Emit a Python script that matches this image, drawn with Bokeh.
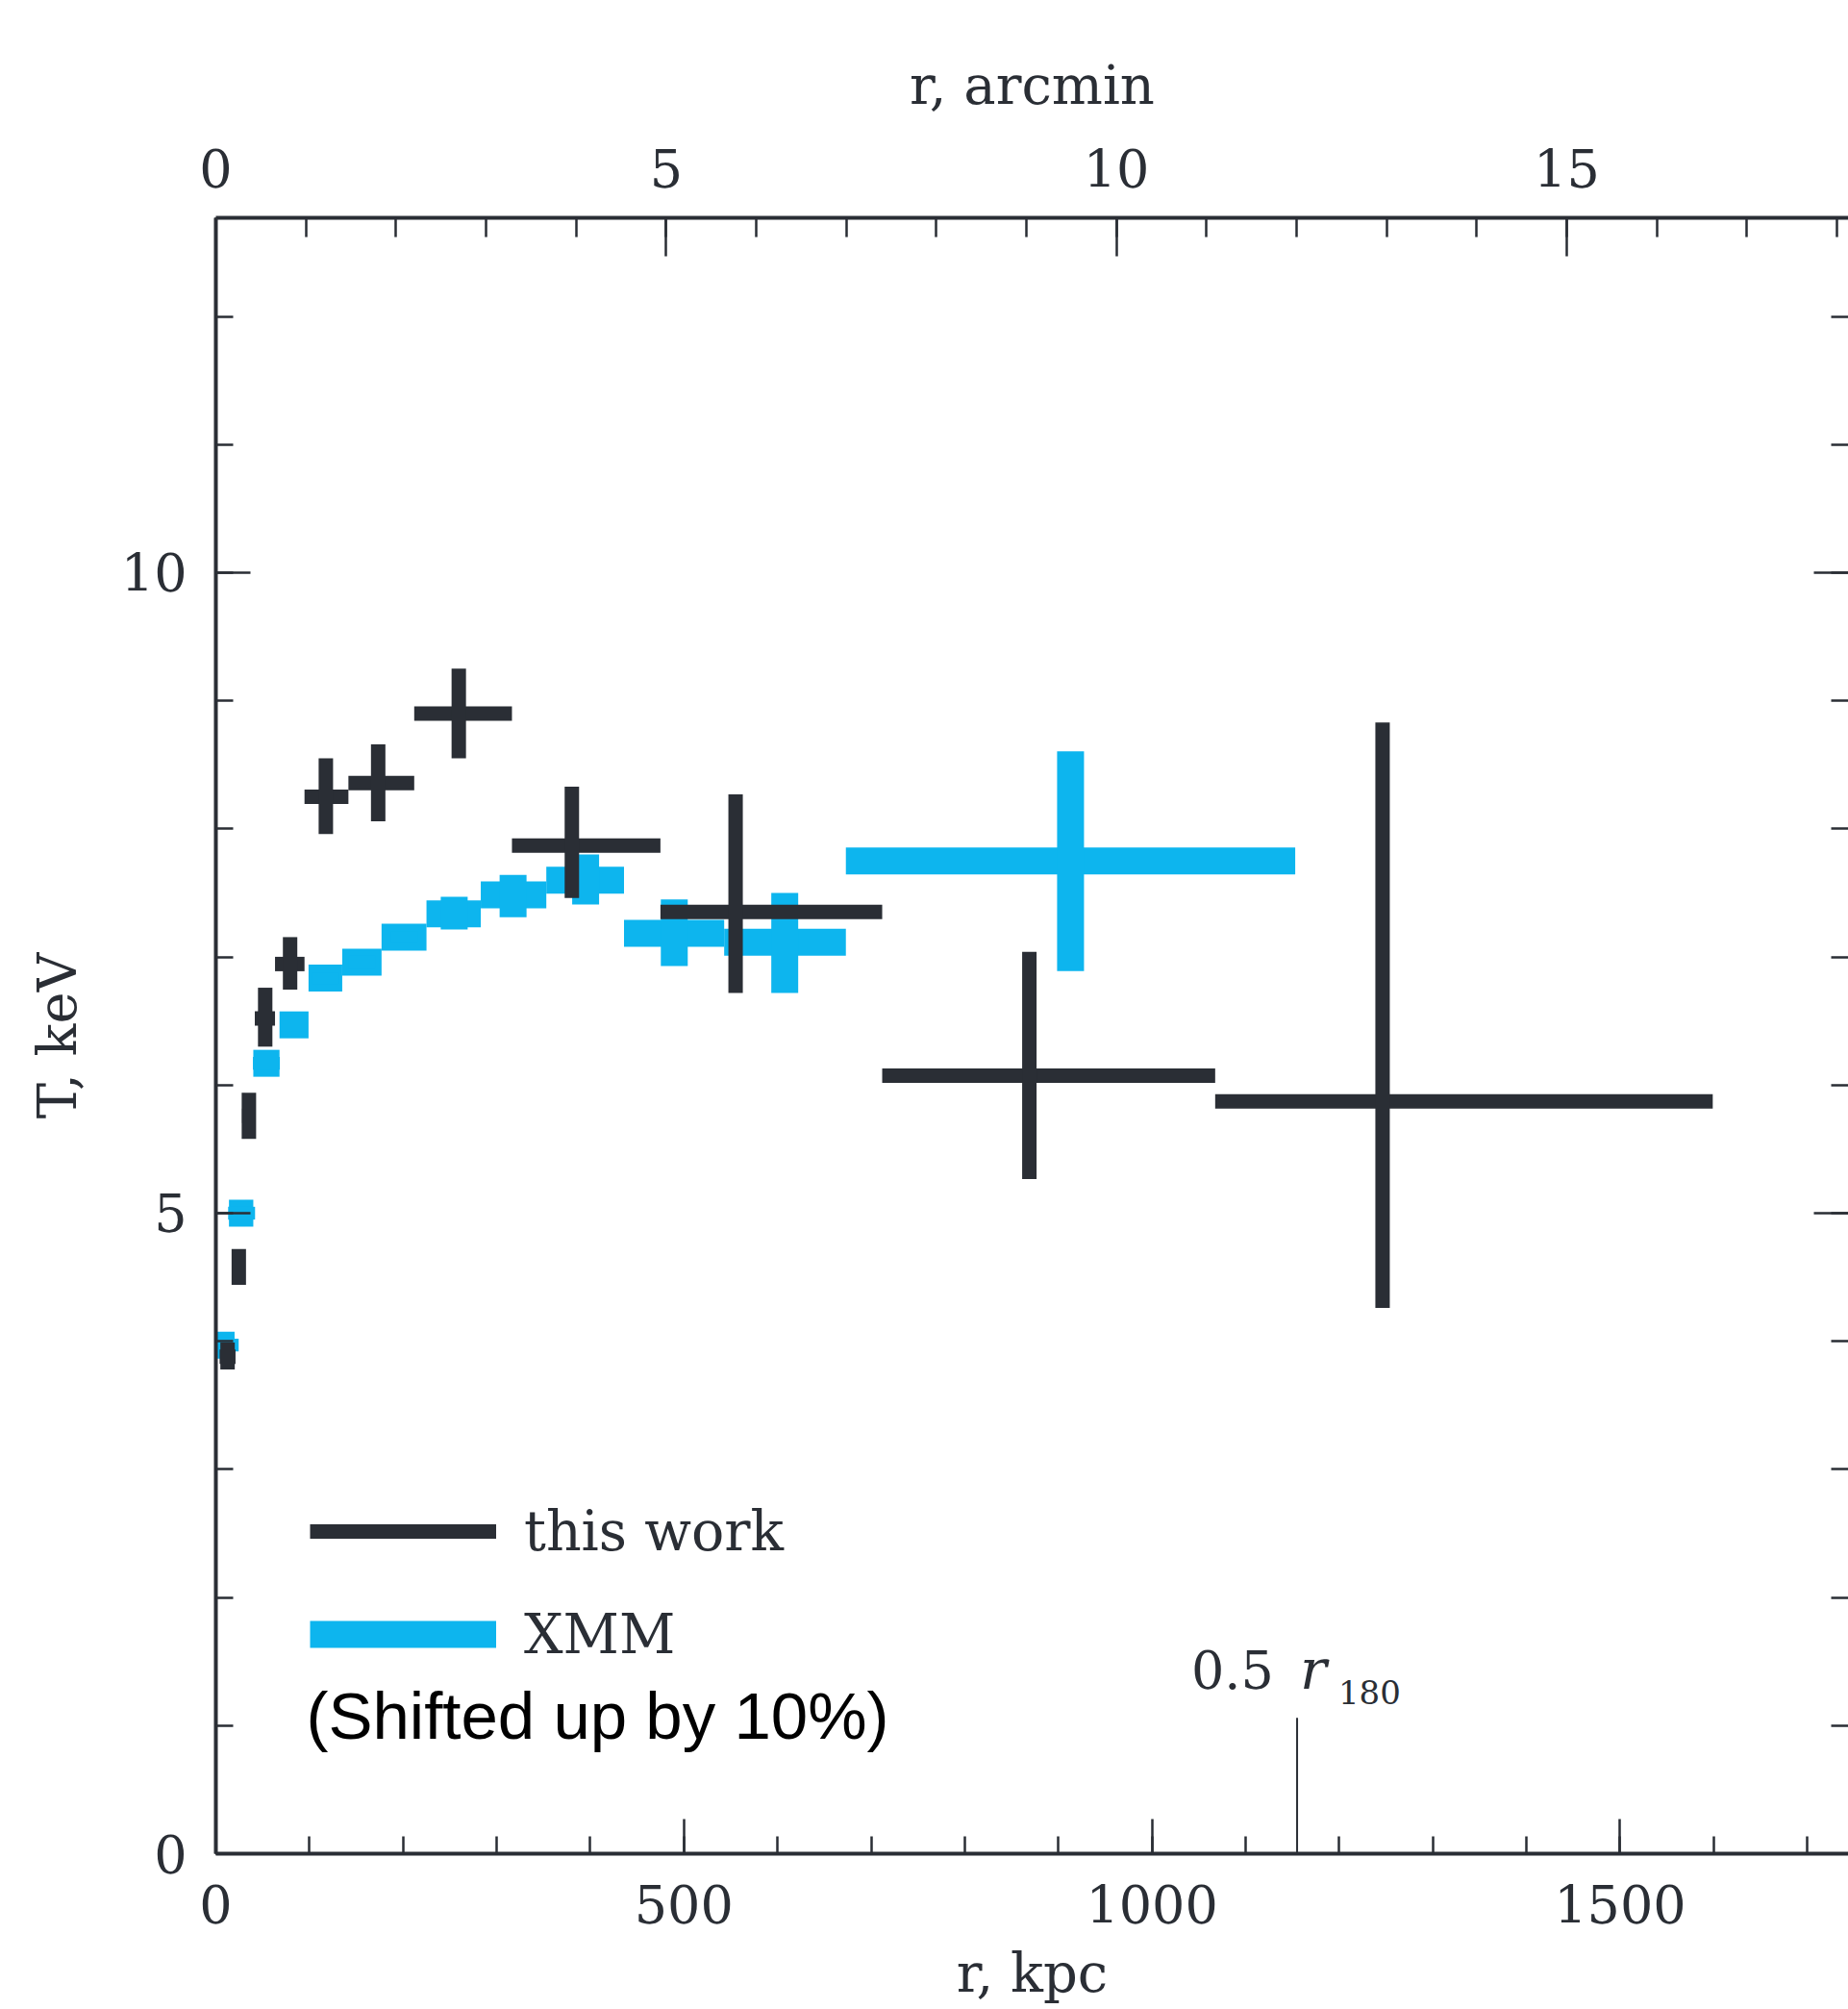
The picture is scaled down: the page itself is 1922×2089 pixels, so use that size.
from bokeh.plotting import figure
from bokeh.models import Range1d, LinearAxis, SingleIntervalTicker, Label
from bokeh.embed import file_html
from bokeh.resources import INLINE

# ---------------- data ----------------
# "this work" temperature profile (kpc, keV)
this_work_r    = [12.5, 24.5, 35.3, 52.7, 79.3, 117.5, 173.4, 259.5, 380.3, 555.2, 869.0, 1246.3]
this_work_r_lo = [4.0, 21.0, 28.0, 41.6, 63.2, 94.7, 141.6, 211.9, 316.3, 474.9, 711.8, 1067.5]
this_work_r_hi = [21.0, 28.0, 42.0, 63.2, 94.7, 141.6, 211.9, 316.3, 474.9, 711.8, 1067.5, 1599.0]
this_work_T    = [3.88, 4.58, 5.76, 6.52, 6.945, 8.25, 8.357, 8.90, 7.87, 7.352, 6.074, 5.872]
this_work_T_lo = [3.78, 4.44, 5.58, 6.30, 6.745, 7.96, 8.06, 8.55, 7.46, 6.72, 5.267, 4.26]
this_work_T_hi = [3.99, 4.72, 5.94, 6.76, 7.155, 8.55, 8.66, 9.25, 8.33, 8.27, 7.04, 8.83]

# XMM temperature profile (shifted up by 10%)
xmm_r    = [10.0, 27.5, 54.0, 83.0, 117.0, 156.0, 201.0, 254.6, 317.5, 395.0, 489.7, 607.7, 913.0]
xmm_r_lo = [0.0, 14.0, 40.0, 68.0, 99.0, 135.0, 177.0, 225.0, 283.0, 353.0, 436.0, 543.0, 673.0]
xmm_r_hi = [20.0, 40.0, 68.0, 99.0, 135.0, 177.0, 225.0, 283.0, 353.0, 436.0, 543.0, 673.0, 1153.0]
xmm_T    = [3.97, 5.00, 6.17, 6.47, 6.835, 6.96, 7.155, 7.337, 7.485, 7.60, 7.185, 7.116, 7.75]
xmm_T_lo = [3.92, 4.95, 6.12, 6.42, 6.79, 6.91, 7.11, 7.215, 7.31, 7.41, 6.93, 6.72, 6.89]
xmm_T_hi = [4.02, 5.05, 6.22, 6.52, 6.88, 7.01, 7.20, 7.47, 7.64, 7.80, 7.45, 7.50, 8.605]

half_r180_kpc = 1155.0        # 0.5 r180 marker
kpc_per_arcmin = 96.2

x_max_kpc = 1744.0
y_max_keV = 12.77

DARK = "#2a2e35"
CYAN = "#0db5ee"
SERIF = "DejaVu Serif"

# ---------------- figure ----------------
p = figure(width=1922, height=2089,
           x_range=Range1d(0, x_max_kpc), y_range=Range1d(0, y_max_keV),
           output_backend="svg", toolbar_location=None,
           min_border_left=224, min_border_right=0,
           min_border_top=226, min_border_bottom=162,
           x_axis_label="r, kpc", y_axis_label="T, keV")
p.outline_line_color = None
p.background_fill_color = "white"
p.border_fill_color = "white"
p.xgrid.grid_line_color = None
p.ygrid.grid_line_color = None

p.extra_x_ranges = {"arcmin": Range1d(0, x_max_kpc / kpc_per_arcmin)}


def style_axis(ax, major_len=36, minor_len=18):
    ax.axis_line_width = 4
    ax.axis_line_color = DARK
    ax.major_tick_line_width = 2.5
    ax.major_tick_line_color = DARK
    ax.minor_tick_line_width = 2.5
    ax.minor_tick_line_color = DARK
    ax.major_tick_in = major_len
    ax.major_tick_out = 0
    ax.minor_tick_in = minor_len
    ax.minor_tick_out = 0
    ax.major_label_text_font = SERIF
    ax.major_label_text_font_size = "54px"
    ax.major_label_text_color = DARK
    ax.axis_label_text_font = SERIF
    ax.axis_label_text_font_size = "56px"
    ax.axis_label_text_font_style = "normal"
    ax.axis_label_text_color = DARK


bottom = p.below[0]
bottom.ticker = SingleIntervalTicker(interval=500, num_minor_ticks=5)
style_axis(bottom)
bottom.major_label_standoff = 32
bottom.axis_label_standoff = 16

left = p.left[0]
left.ticker = SingleIntervalTicker(interval=5, num_minor_ticks=5)
style_axis(left)
left.major_label_standoff = 30
left.axis_label_standoff = 31

top = LinearAxis(x_range_name="arcmin", axis_label="r, arcmin",
                 ticker=SingleIntervalTicker(interval=5, num_minor_ticks=5))
style_axis(top, 40, 20)
top.major_label_standoff = 32
top.axis_label_standoff = 31
p.add_layout(top, "above")

right = LinearAxis(ticker=SingleIntervalTicker(interval=5, num_minor_ticks=5))
style_axis(right)
right.axis_line_color = None
right.major_label_text_font_size = "1px"
right.major_label_text_alpha = 0
right.major_label_standoff = 0
p.add_layout(right, "right")

# ---------------- data glyphs ----------------
p.segment(x0=xmm_r_lo, y0=xmm_T, x1=xmm_r_hi, y1=xmm_T,
          line_width=28, line_color=CYAN, line_cap="butt", legend_label="XMM")
p.segment(x0=xmm_r, y0=xmm_T_lo, x1=xmm_r, y1=xmm_T_hi,
          line_width=28, line_color=CYAN, line_cap="butt")

p.segment(x0=this_work_r_lo, y0=this_work_T, x1=this_work_r_hi, y1=this_work_T,
          line_width=15, line_color=DARK, line_cap="butt", legend_label="this work")
p.segment(x0=this_work_r, y0=this_work_T_lo, x1=this_work_r, y1=this_work_T_hi,
          line_width=15, line_color=DARK, line_cap="butt")

# 0.5 r180 marker
p.segment(x0=[half_r180_kpc], y0=[0], x1=[half_r180_kpc], y1=[1.06],
          line_width=2, line_color=DARK)
p.add_layout(Label(x=1042, y=1.44, text="0.5", text_font=SERIF,
                   text_font_size="54px", text_color=DARK, text_baseline="alphabetic"))
p.add_layout(Label(x=1158, y=1.44, text="r", text_font=SERIF, text_font_style="italic",
                   text_font_size="58px", text_color=DARK, text_baseline="alphabetic"))
p.add_layout(Label(x=1199, y=1.26, text="180", text_font=SERIF,
                   text_font_size="34px", text_color=DARK, text_baseline="alphabetic"))

# note under legend
p.add_layout(Label(x=96.5, y=1.075, text="(Shifted up by 10%)", text_font="Liberation Sans",
                   text_font_size="69px", text_color="black", text_baseline="alphabetic"))

# ---------------- legend ----------------
leg = p.legend[0]
leg.items = [leg.items[1], leg.items[0]]
leg.location = (98, 193)
leg.orientation = "vertical"
leg.glyph_width = 194
leg.glyph_height = 70
leg.label_height = 70
leg.label_standoff = 29
leg.spacing = 37
leg.padding = 0
leg.margin = 0
leg.border_line_color = None
leg.background_fill_alpha = 0
leg.label_text_font = SERIF
leg.label_text_font_size = "57px"
leg.label_text_color = DARK

open("out.html", "w").write(file_html(p, INLINE))
